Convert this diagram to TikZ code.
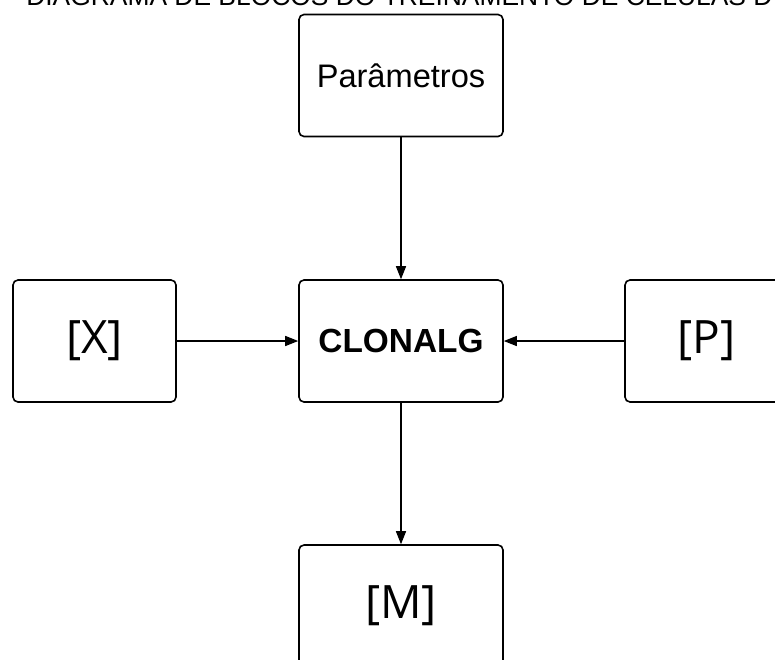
\documentclass[tikz,border=0pt]{standalone}
\usepackage{fontspec}
\setmainfont{Liberation Sans}
\newfontfamily\brfont{Open Sans}
\usetikzlibrary{arrows.meta}
\begin{document}
\begin{tikzpicture}[x=1pt,y=-1pt,
  blk/.style={draw, line width=1.6pt, rounded corners=5pt, minimum width=204pt,
    minimum height=122pt, inner sep=0pt, fill=white},
  sblk/.style={blk, minimum width=163pt},
  brtxt/.style={font=\brfont\fontsize{46}{50}\selectfont},
  conn/.style={line width=1.3pt, -{Triangle[length=13pt,width=10pt]}}
]
\useasboundingbox (0,0) rectangle (775,659);
\clip (0,0) rectangle (775,659);
\fill[white] (0,0) rectangle (775,659);
\node[anchor=base west, font=\fontsize{26.4}{30}\selectfont, inner sep=0pt] (title) at (10,5)
  {- DIAGRAMA DE BLOCOS DO TREINAMENTO DE CÉLULAS D};
\node[blk, font=\fontsize{32.6}{36}\selectfont] (par) at (401,75.5) {Parâmetros};
\node[blk, font=\fontsize{33.4}{36}\selectfont\bfseries] (clon) at (401,341) {CLONALG};
\node[sblk, brtxt] (x) at (94.5,341) {[X]};
\node[sblk, brtxt] (p) at (706.5,341) {[P]};
\node[blk, brtxt] (m) at (401,606) {[M]};
\draw[conn] (par) -- (clon);
\draw[conn] (x) -- (clon);
\draw[conn] (p) -- (clon);
\draw[conn] (clon) -- (m);
\end{tikzpicture}
\end{document}
